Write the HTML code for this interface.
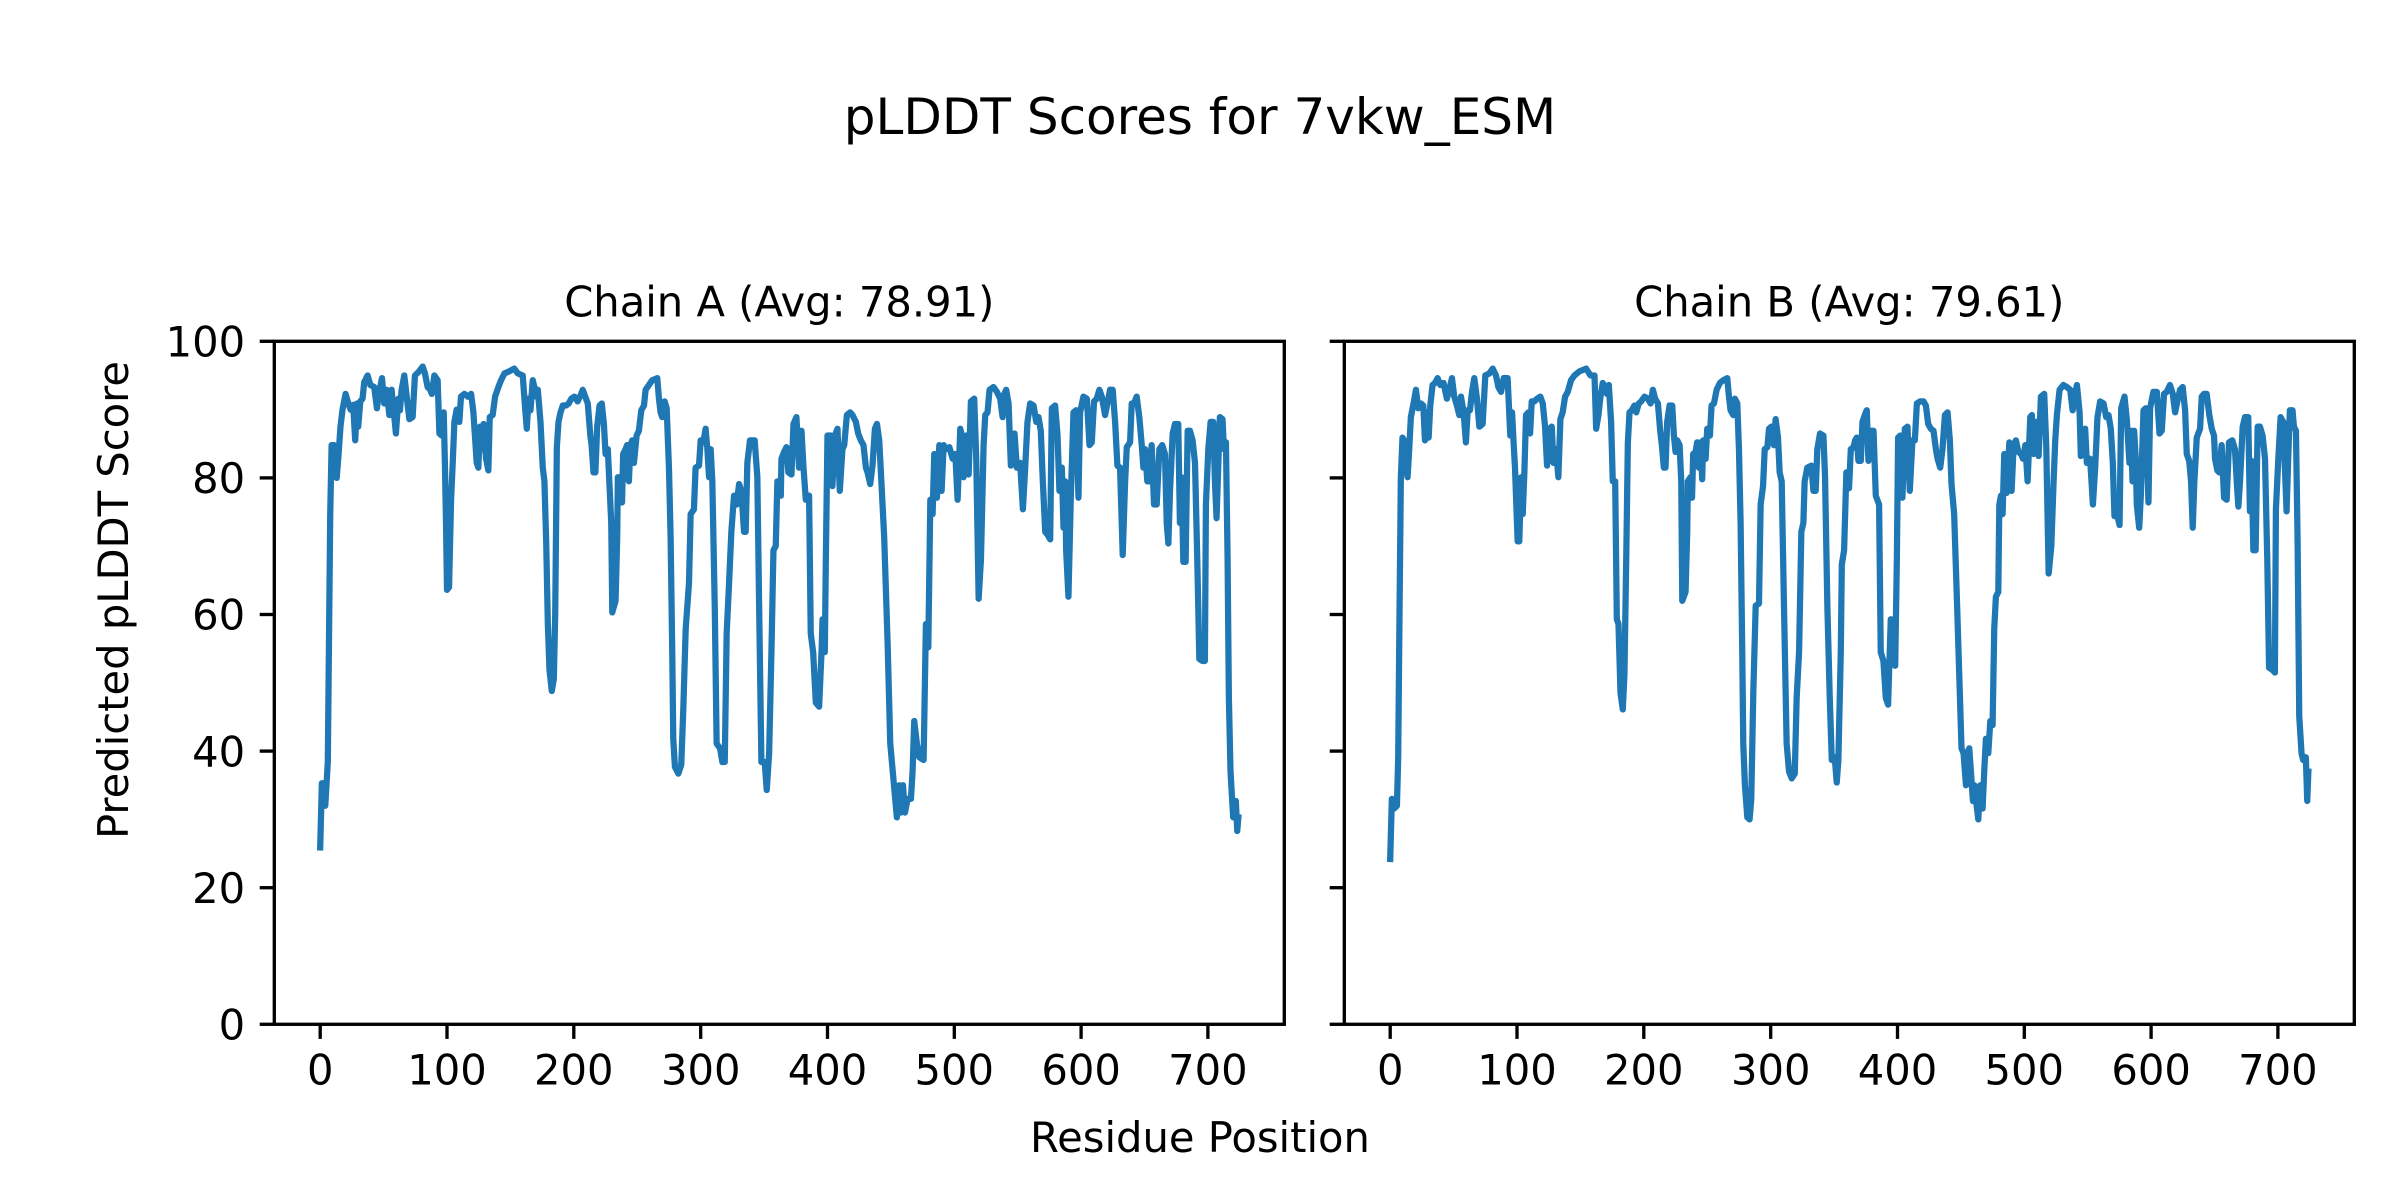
<!DOCTYPE html>
<html>
<head>
<meta charset="utf-8">
<style>
html,body{margin:0;padding:0;background:#fff;}
svg{display:block;}
text{font-family:"DejaVu Sans","Liberation Sans",sans-serif;fill:#000;}
</style>
</head>
<body>
<svg xmlns="http://www.w3.org/2000/svg" width="2400" height="1200" viewBox="0 0 2400 1200">
<rect x="0" y="0" width="2400" height="1200" fill="#fff"/>

<!-- Suptitle -->
<text x="1200" y="134" font-size="50" text-anchor="middle">pLDDT Scores for 7vkw_ESM</text>

<!-- Axis titles -->
<text x="779.3" y="316.3" font-size="41.67" text-anchor="middle">Chain A (Avg: 78.91)</text>
<text x="1849.3" y="316.3" font-size="41.67" text-anchor="middle">Chain B (Avg: 79.61)</text>

<!-- Chain A line -->
<g transform="translate(320.2,1024.3) scale(1.2682,-6.83)">
<polyline fill="none" stroke="#1f77b4" stroke-width="6.25" stroke-linejoin="round" stroke-linecap="square" vector-effect="non-scaling-stroke" points="0,25.9 1.3,35.3 3.2,35.3 4,32 6,38.4 7.9,74.7 9,84.8 11,84.8 13,80 14.5,83.5 16,87.5 17.6,90 20,92.3 22,91 24,90 26,90.7 27.6,85.5 29,90.9 30,87.5 31.6,91.2 33.4,91.6 34.7,94 37.4,95 39.5,93.6 42.6,93.3 44.7,90.2 46.6,92.6 48.7,94.6 50.5,90.9 52.4,92.9 54.5,89.2 56.3,92.9 57.9,89.9 59.7,86.5 61.6,91.6 62.9,89.9 64.2,92.9 66.3,95 68.4,91.6 70.3,88.6 72.9,88.9 74.7,95 78,95.6 80.8,96.3 82.6,95.3 84.7,93.3 86.8,92.9 88,92.3 90,95 92.6,94.3 94,86.5 95.8,86.2 97.4,89.6 98.4,81.5 99.2,73.4 100,63.6 101.6,64 103.2,76.8 104.5,82.2 105.8,88.2 107.6,90 109.7,88.2 111,91.9 113.7,92.3 116.3,91.9 119,92.3 120.8,89.6 122,86.2 123.4,82.2 124.7,81.5 126,87.5 127.6,84.2 128.9,87.9 130.8,82.8 132.6,81.1 133.7,88.9 136,89.2 137.9,91.9 140.5,93.3 142.6,94.3 145.3,95.3 149,95.6 153,96 155.8,95.3 159.7,95 161.6,90.2 162.9,87.2 164.2,91.6 165.8,89.9 167.6,94.3 168.9,93.3 170.3,91.9 171.6,92.9 173.7,88.2 175.5,81.5 176.8,79.5 178.2,70.7 179.5,58.6 180.8,51.9 182.6,48.8 184.2,50.5 185.3,59.9 186.6,84.5 187.9,88.2 189.5,89.6 191.3,90.6 194,90.6 196,90.9 198,91.6 200.5,91.9 203,91.2 205.8,92.3 207,92.9 209,91.9 211,90.9 213,86.2 214,84.8 215.5,80.8 217,80.8 218.4,87.5 220.3,90.6 222,90.9 223.7,87.9 225,83.5 226.8,84.2 229.5,73.4 230.3,60.3 232.9,62 234.2,71.4 234.7,80.1 236.8,80.1 238,76.4 238.9,83.5 240.8,84.2 242,84.8 243.4,79.5 244.7,84.8 246,85.5 247.4,82.2 249.5,86.2 251.3,86.9 253.2,89.9 255.3,90.6 256.6,92.9 259.2,93.6 261.8,94.3 265.8,94.6 267.1,91.6 268.4,89.6 269.7,88.9 271.6,91.2 273.2,90.2 275,81.5 276.3,71.4 277.6,54.5 278.4,41.8 279.7,37.7 282.4,36.7 284.7,38 286.3,46.1 288.2,57.9 290.8,64.6 292.1,74.7 294.7,75.4 296,81.5 298.7,81.8 300,85.5 302.1,85.2 303.9,87.2 305.3,84.2 306.6,80.1 307.9,84.2 309.2,79.5 311.1,61.3 312.6,41.1 315.3,40.4 317.1,38.4 319,38.4 320.5,57.2 322.4,64.6 324.2,72.1 326.3,77.4 328.4,76.1 330.3,79.1 332.1,78.1 334.2,72.1 335.5,72.1 336.8,82.2 338.9,85.5 342.6,85.5 344.7,80.1 346.1,61.3 347.9,38.4 350.5,38.4 352.1,34.3 354,39.7 355.8,54.5 357.4,69.4 359.2,70 360.5,79.5 363.2,77.4 363.7,82.8 365.8,83.8 367.6,84.5 369.2,80.8 371.6,80.5 373.2,87.9 375.5,88.9 377.6,81.5 379.5,86.9 381.1,81.5 382.9,76.8 385.5,77.4 386.8,57.2 388.7,54.5 390.8,47.1 393.4,46.5 395.3,54.5 396.1,59.3 397.9,54.5 398.7,68 400,86.2 402.6,86.2 403.9,78.8 405.8,86.2 407.9,87.2 409.7,78.1 411.8,84.2 413.2,84.8 415.3,89.2 417.9,89.6 419.7,89.2 422.4,88.2 424.2,86.5 426.3,85.5 428.4,84.8 430.3,81.5 431.6,80.8 433.7,79.1 435.5,81.8 437.4,87.2 439,87.9 440.8,85.5 442.6,79.1 444.7,71.4 447.4,55.9 449.5,41.1 452.1,35.7 454.7,30.3 456.6,35 457.9,31 459.5,35 461.1,31 463.2,33 465.8,33 467.1,37 468.4,44.4 470.5,41.1 472.4,39.1 475.8,38.7 477.6,58.6 479.5,55.2 481.1,76.8 482.9,74.7 484.2,83.5 486.3,77.1 488.2,84.8 490,78.1 491.6,84.8 493.4,84.2 496.1,84.5 498.7,82.8 500.8,83.5 502.6,76.8 504.7,87.2 506,86.2 507.3,80.1 509.4,86.2 511.3,80.5 513.1,91.2 515.7,91.6 517.3,82.8 519.2,62.3 521,68 523.1,84.8 524.4,89.2 526.2,89.6 527.8,92.9 530.9,93.3 533.6,92.6 536.2,91.6 538.1,88.9 539.4,92.3 540.9,92.9 542.8,90.9 544.6,81.8 546.2,82.2 547.5,86.5 549.3,81.5 551.9,82.2 554.1,75.4 555.9,81.5 557.7,88.2 559.8,90.9 562.5,90.6 564.6,88.2 566.4,88.9 568.2,86.9 569.8,79.5 571.7,72.1 573.5,71.7 575.6,71 576.9,90.2 579.5,90.6 581.4,86.2 582.9,78.1 584.8,81.5 586.1,72.7 587.4,79.5 588.2,69.4 590,62.6 591.9,77.4 594,89.6 596.1,89.9 597.9,77.1 599.2,89.6 601.8,91.9 604.5,91.6 606.6,84.8 608.4,85.2 610.2,91.2 612.3,91.6 614.4,92.9 616.3,91.9 618.9,89.2 620.7,90.9 622.8,92.9 624.9,92.9 626.8,88.2 628.6,81.8 630.7,81.5 632.8,68.7 634.7,79.5 636,84.5 638.6,85.2 639.9,90.9 641.7,90.9 643.8,91.9 645.9,88.9 647.8,84.8 649.1,81.5 650.4,84.2 652.2,79.5 653.8,79.5 655.6,84.8 657.5,76.1 659.6,76.1 661.7,84.2 664,84.8 666.1,83.5 667.5,73.4 668.8,70.4 670.1,78.1 672.2,86.5 674,87.9 676.6,87.9 677.9,73.4 679.2,80.1 680.6,67.7 682.4,67.7 684,86.9 685.8,86.9 687.9,85.5 689.8,82.2 691.6,68 693.2,53.5 695.6,53.2 697.6,53.2 698.4,76.1 700.3,84.2 702.1,88.2 704.2,88.2 705.5,79.5 706.8,74.1 708.1,81.5 709.4,88.9 711.5,88.6 712.6,84.2 714.2,85.2 715.5,68 716.5,47.8 717.8,37 719.9,30.3 722,32.7 723.1,28.3 724,30.3"/>
</g>

<!-- Chain B line -->
<g transform="translate(1390.2,1024.3) scale(1.2682,-6.83)">
<polyline fill="none" stroke="#1f77b4" stroke-width="6.25" stroke-linejoin="round" stroke-linecap="square" vector-effect="non-scaling-stroke" points="0,24.2 1.3,33 3.2,31.6 5.3,32 6.3,39 7.4,61.3 8.4,80.1 9.7,85.9 11,85.5 12.4,81.5 13.7,80.1 15,84.2 16.3,88.9 18.4,90.9 20.3,92.9 22.1,90.2 24.2,90.9 26.1,90.6 27.4,85.5 28.9,89.6 30.3,85.9 31.6,90.6 33.4,93.6 35.3,93.9 37.4,94.6 39.5,93.6 42.1,93.9 44.7,91.6 46.6,92.9 48.7,94.6 50.5,91.9 52.6,90.6 54.5,89.2 55.8,91.9 57.9,89.6 59.7,85.2 61.1,89.9 62.9,89.9 64.5,92.6 66.3,94.6 68.4,91.6 70.3,87.5 72.9,87.9 75,95 78.2,95.3 80.8,96 83.4,95 85.3,93.3 87.4,92.6 89.5,94.6 92.6,94.6 94.7,86.2 96.1,89.6 97.4,84.8 98.4,81.5 99.7,74.7 100.5,70.7 101.8,70.7 103.2,80.1 104.5,74.7 105.8,80.8 107.1,89.2 108.9,89.6 110.3,86.5 111.6,91.2 113.7,91.2 115.8,91.6 118.4,91.9 120.3,90.9 122.1,87.5 123.7,81.8 125.5,87.2 127.4,87.5 128.7,82.2 130.8,84.2 132.6,80.1 134.2,88.6 136,89.6 137.9,91.9 140,92.6 142.6,94.3 145.3,95 149.2,95.6 154.5,96 157.9,95 161.1,95 162.4,87.2 164.2,89.2 165.8,91.9 167.6,93.9 169.5,93.3 170.8,92.3 172.4,93.6 174.2,88.2 175.5,79.5 177.4,79.5 178.7,59.3 180,58.6 181.6,48.5 183.4,46.1 184.7,51.2 186.1,68 187.4,85.2 188.7,89.6 190.5,89.9 192.6,90.6 194,89.6 196,90.9 197.9,91.2 200.5,91.9 203.2,91.6 205.3,90.9 207.1,92.9 208.9,91.6 211.1,90.9 212.9,86.9 214.2,84.8 215.8,81.5 217.1,81.5 218.4,88.2 220.3,90.6 222.4,90.6 223.7,86.2 225,83.8 226.3,85.5 228.2,84.8 229.5,79.5 230.3,62 232.9,63.3 234.2,72.1 234.7,79.5 236.8,80.1 238,77.1 238.9,83.5 240.8,83.8 242,85.2 243.4,81.5 244.7,85.2 246,79.8 246.8,85.5 248.7,82.8 250,87.2 252.1,86.2 253.4,90.6 255.3,90.9 257.4,92.9 260,93.9 262.6,94.3 265.8,94.6 267.1,91.9 268.4,89.9 270.5,89.2 271.8,91.6 273.7,90.9 275,84.2 276.3,73.4 277.6,54.5 278.4,41.1 279.7,35 281.6,30.3 283.4,30 284.7,33 286.3,48.5 288.2,61.3 290.8,61.6 292.1,76.1 294,78.8 295.3,84.2 297.4,84.5 298.7,87.2 300.5,87.5 302.6,84.8 303.9,88.6 305.8,85.9 307.1,80.8 308.7,79.5 310.5,61.3 312.6,41.1 314.5,37 316.6,36 319,36.7 320.5,47.8 322.4,54.5 324.2,72.1 325.8,73.4 326.8,79.5 328.9,81.5 332.1,81.8 333.7,78.1 335.5,78.1 336.8,84.2 338.9,86.5 341.6,86.2 342.9,80.1 344.7,61.3 346.6,47.8 348.2,38.7 350.5,39.1 352.1,35.4 353.4,38.7 355.3,54.5 356.1,67.3 357.9,69.4 359.7,80.8 361.8,78.5 363.2,84.2 365.3,84.5 366.6,85.5 367.9,85.9 369.2,82.5 371.1,82.5 372.4,88.2 374.2,89.2 375.8,89.9 377.1,82.5 378.9,86.9 381.1,86.9 382.9,77.4 385.5,76.1 386.8,54.5 388.9,53.2 390.8,47.8 392.6,46.8 394.7,59.3 396.1,58.6 398.2,52.5 399.5,68 400.5,85.9 402.1,86.2 403.9,77.1 405.8,87.2 407.9,87.5 409.7,78.1 411.8,85.5 413.7,85.5 415.3,90.9 417.9,91.2 420.5,91.2 422.4,90.6 424.2,87.9 426.3,87.2 428.4,86.9 430.3,84.2 431.6,82.8 433.7,81.5 435.5,84.2 437.4,89.2 439.5,89.6 441.3,85.5 442.6,79.1 444.7,74.7 446.8,62.6 448.7,51.2 450.5,40.4 452.1,39.7 454,35 455.3,39.7 456.6,40.4 457.9,37 459.5,32.7 460.5,35 461.8,33 463.7,30 465.3,35 467.1,31.6 468.4,37 469.7,41.8 471.6,39.7 473.2,44.4 475,43.8 476.3,57.9 477.6,62.6 479.5,63.3 480.3,76.1 481.6,77.4 482.9,74.7 484.2,83.5 486.1,77.8 488.2,85.2 490,78.1 491.6,84.8 493.4,85.5 495.3,83.8 497.4,83.5 499,82.8 500.8,84.8 502.6,79.5 504.7,88.9 506,89.2 507.3,83.5 509.4,88.2 511.3,83.2 513.1,91.9 515.7,92.3 517.3,84.8 519.2,66 521.3,70 523.1,79.5 524.4,85.5 525.7,89.2 527.8,92.9 530.9,93.6 533.6,93.3 536.2,92.9 538.1,89.9 539.6,91.9 541.5,93.6 543.6,89.6 544.6,83.2 546.7,83.5 548,87.2 549.3,82.2 551.9,82.8 554.1,76.1 555.9,81.5 557.7,88.9 559.8,91.2 562.5,90.9 564.6,88.9 566.4,89.2 568.2,87.2 569.8,82.2 571.1,74.4 573.5,74.4 575.1,73.1 576.4,90.2 579,91.9 580.8,88.6 582.9,82.2 584.3,86.9 585.3,79.5 586.6,86.9 587.9,82.8 588.7,76.1 590.6,72.7 591.9,77.4 594,89.9 595.8,90.2 597.9,76.4 599.2,90.2 601.8,92.6 604.5,92.6 606.6,86.5 608.4,86.9 610.2,92.3 612.3,92.6 614.9,93.6 617.1,92.3 618.9,89.6 620.7,91.2 622.8,92.9 624.9,93.3 626.8,89.9 628.1,83.5 630,82.5 631.5,79.5 632.8,72.7 634.1,79.5 636,85.9 638.6,87.2 639.9,91.9 641.7,92.3 643.8,92.3 645.9,89.2 647.8,87.2 649.6,86.2 650.4,82.8 652.2,81.1 653.8,80.8 655.6,84.8 657.5,77.1 659.6,76.8 661.4,85.2 664,85.5 666.1,84.2 667.5,79.5 668.8,75.8 670.1,79.5 672.2,87.5 674,88.9 676.6,88.9 677.9,75.1 679.2,82.5 680.6,69.4 682.4,69.4 684,87.5 685.8,87.5 687.9,86.2 689.8,82.8 691.6,68 693,52.2 695.6,51.9 697.6,51.5 698.4,75.4 700.3,82.8 702.1,88.9 704.2,88.2 705.5,81.5 706.8,75.1 708.1,82.8 709.4,89.9 711.5,89.9 712.6,87.5 714.2,86.9 715.5,70.7 716.8,45.1 718.6,39.7 719.9,38.7 722,39.1 723.1,32.7 724,37"/>
</g>

<!-- Spines -->
<rect x="274.3" y="341.3" width="1010" height="683" fill="none" stroke="#000" stroke-width="3.33"/>
<rect x="1344.3" y="341.3" width="1010" height="683" fill="none" stroke="#000" stroke-width="3.33"/>

<!-- Y ticks (both axes) -->
<g stroke="#000" stroke-width="3.33">
<line x1="259.7" y1="1024.3" x2="274.3" y2="1024.3"/>
<line x1="259.7" y1="887.7" x2="274.3" y2="887.7"/>
<line x1="259.7" y1="751.1" x2="274.3" y2="751.1"/>
<line x1="259.7" y1="614.5" x2="274.3" y2="614.5"/>
<line x1="259.7" y1="477.9" x2="274.3" y2="477.9"/>
<line x1="259.7" y1="341.3" x2="274.3" y2="341.3"/>
<line x1="1329.7" y1="1024.3" x2="1344.3" y2="1024.3"/>
<line x1="1329.7" y1="887.7" x2="1344.3" y2="887.7"/>
<line x1="1329.7" y1="751.1" x2="1344.3" y2="751.1"/>
<line x1="1329.7" y1="614.5" x2="1344.3" y2="614.5"/>
<line x1="1329.7" y1="477.9" x2="1344.3" y2="477.9"/>
<line x1="1329.7" y1="341.3" x2="1344.3" y2="341.3"/>
</g>

<!-- X ticks -->
<g stroke="#000" stroke-width="3.33">
<line x1="320.2" y1="1024.3" x2="320.2" y2="1038.9"/>
<line x1="447.0" y1="1024.3" x2="447.0" y2="1038.9"/>
<line x1="573.8" y1="1024.3" x2="573.8" y2="1038.9"/>
<line x1="700.7" y1="1024.3" x2="700.7" y2="1038.9"/>
<line x1="827.5" y1="1024.3" x2="827.5" y2="1038.9"/>
<line x1="954.3" y1="1024.3" x2="954.3" y2="1038.9"/>
<line x1="1081.1" y1="1024.3" x2="1081.1" y2="1038.9"/>
<line x1="1207.9" y1="1024.3" x2="1207.9" y2="1038.9"/>
<line x1="1390.2" y1="1024.3" x2="1390.2" y2="1038.9"/>
<line x1="1517.0" y1="1024.3" x2="1517.0" y2="1038.9"/>
<line x1="1643.8" y1="1024.3" x2="1643.8" y2="1038.9"/>
<line x1="1770.7" y1="1024.3" x2="1770.7" y2="1038.9"/>
<line x1="1897.5" y1="1024.3" x2="1897.5" y2="1038.9"/>
<line x1="2024.3" y1="1024.3" x2="2024.3" y2="1038.9"/>
<line x1="2151.1" y1="1024.3" x2="2151.1" y2="1038.9"/>
<line x1="2277.9" y1="1024.3" x2="2277.9" y2="1038.9"/>
</g>

<!-- Y tick labels -->
<g font-size="41.67" text-anchor="end">
<text x="245.1" y="1039.5">0</text>
<text x="245.1" y="902.9">20</text>
<text x="245.1" y="766.3">40</text>
<text x="245.1" y="629.7">60</text>
<text x="245.1" y="493.1">80</text>
<text x="245.1" y="356.5">100</text>
</g>

<!-- X tick labels -->
<g font-size="41.67" text-anchor="middle">
<text x="320.2" y="1084.5">0</text>
<text x="447.0" y="1084.5">100</text>
<text x="573.8" y="1084.5">200</text>
<text x="700.7" y="1084.5">300</text>
<text x="827.5" y="1084.5">400</text>
<text x="954.3" y="1084.5">500</text>
<text x="1081.1" y="1084.5">600</text>
<text x="1207.9" y="1084.5">700</text>
<text x="1390.2" y="1084.5">0</text>
<text x="1517.0" y="1084.5">100</text>
<text x="1643.8" y="1084.5">200</text>
<text x="1770.7" y="1084.5">300</text>
<text x="1897.5" y="1084.5">400</text>
<text x="2024.3" y="1084.5">500</text>
<text x="2151.1" y="1084.5">600</text>
<text x="2277.9" y="1084.5">700</text>
</g>

<!-- Figure labels -->
<text x="1200" y="1152" font-size="41.67" text-anchor="middle">Residue Position</text>
<text transform="translate(128,600) rotate(-90)" font-size="41.67" text-anchor="middle">Predicted pLDDT Score</text>
</svg>
</body>
</html>
